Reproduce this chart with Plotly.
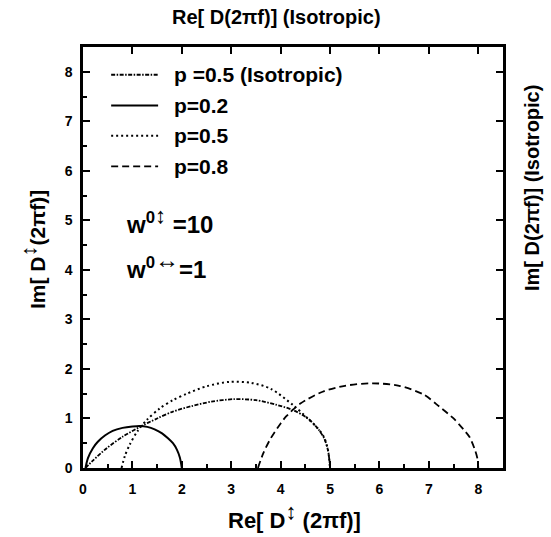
import plotly.graph_objects as go

# ---- data ----
iso_x = [0.05, 0.2, 0.48, 0.8, 1.15, 1.5, 1.82, 2.2, 2.6, 3.05, 3.5, 3.9, 4.25, 4.55, 4.75, 4.88, 4.96, 5.0]
iso_y = [0.0, 0.15, 0.4, 0.63, 0.83, 1.0, 1.14, 1.25, 1.34, 1.39, 1.37, 1.28, 1.17, 1.0, 0.8, 0.6, 0.35, 0.0]

p2_x = [0.05, 0.1, 0.2, 0.3, 0.45, 0.6, 0.8, 1.0, 1.15, 1.3, 1.45, 1.6, 1.72, 1.82, 1.9, 1.96, 2.0]
p2_y = [0.0, 0.2, 0.4, 0.53, 0.66, 0.75, 0.81, 0.84, 0.85, 0.83, 0.78, 0.7, 0.6, 0.5, 0.37, 0.21, 0.0]

p5_x = [0.78, 0.85, 0.95, 1.1, 1.3, 1.55, 1.82, 2.1, 2.5, 2.97, 3.4, 3.8, 4.25, 4.55, 4.75, 4.88, 4.96, 5.0]
p5_y = [0.0, 0.25, 0.48, 0.74, 0.98, 1.2, 1.37, 1.5, 1.65, 1.74, 1.72, 1.6, 1.27, 1.0, 0.8, 0.62, 0.35, 0.0]

p8_x = [3.54, 3.65, 3.8, 4.0, 4.11, 4.4, 4.85, 5.3, 5.86, 6.4, 6.9, 7.21, 7.5, 7.7, 7.82, 7.92, 7.98, 8.0]
p8_y = [0.0, 0.3, 0.6, 0.9, 1.04, 1.3, 1.54, 1.66, 1.71, 1.66, 1.48, 1.24, 1.0, 0.78, 0.63, 0.4, 0.2, 0.0]

legend_labels = ["p =0.5 (Isotropic)", "p=0.2", "p=0.5", "p=0.8"]
x_ticks = [0, 1, 2, 3, 4, 5, 6, 7, 8]
y_ticks = [0, 1, 2, 3, 4, 5, 6, 7, 8]

FONT = "Liberation Sans, Arial, sans-serif"
BLACK = "#000000"


def bfont(size):
    return dict(family=FONT, size=size, color=BLACK, weight="bold")


series = [
    (iso_x, iso_y, dict(color=BLACK, width=1.8, dash="4px,1.5px,1.5px,1.5px")),
    (p2_x, p2_y, dict(color=BLACK, width=2)),
    (p5_x, p5_y, dict(color=BLACK, width=2, dash="2px,3px")),
    (p8_x, p8_y, dict(color=BLACK, width=1.8, dash="7px,4px")),
]

L, R, T, B = 83, 48, 47, 69
W, H = 551, 537
pw, ph = W - L - R, H - T - B


def px2paper(px, py):
    return (px - L) / pw, ((H - py) - B) / ph


fig = go.Figure()
for (xs, ys, ln), name in zip(series, legend_labels):
    fig.add_trace(go.Scatter(x=xs, y=ys, mode="lines", line=dict(shape="spline", smoothing=0.8, **ln),
                             name=name, showlegend=False))

# dummy trace for mirrored top/right axes
fig.add_trace(go.Scatter(x=[], y=[], xaxis="x2", yaxis="y2", showlegend=False))

# manual legend (line samples + labels)
leg_rows = [7.94, 7.32, 6.71, 6.09]
for (xs, ys, ln), name, ry in zip(series, legend_labels, leg_rows):
    fig.add_shape(type="line", xref="x", yref="y", x0=0.57, x1=1.52, y0=ry, y1=ry,
                  line=dict(color=ln["color"], width=ln["width"], dash=ln.get("dash", "solid")))
    fig.add_annotation(x=1.8, y=ry, xref="x", yref="y", text=name, showarrow=False,
                       xanchor="left", yanchor="middle", font=bfont(21))

UD = "<span style='font-size:22px'>↕</span>"
LR = "<span style='font-size:24px'>↔</span>"

# w annotations
fig.add_annotation(x=0.82, y=5.0, xref="x", yref="y", text=f"w<sup>0{UD}</sup> =10", showarrow=False,
                   xanchor="left", yanchor="middle", font=bfont(24))
fig.add_annotation(x=0.82, y=4.1, xref="x", yref="y", text=f"w<sup>0{LR}</sup>=1", showarrow=False,
                   xanchor="left", yanchor="middle", font=bfont(24))

# titles (positions given in pixels, converted to paper coords)
titles = [
    (276, 17, "Re[ D(2πf)] (Isotropic)", 0, 20),
    (294, 516, f"Re[ D<sup>{UD}</sup> (2πf)]", 0, 22),
    (32, 250, f"Im[ D<sup>{UD}</sup>(2πf)]", -90, 21),
    (532, 188, "Im[ D(2πf)] (Isotropic)", -90, 20),
]
for px, py, txt, ang, sz in titles:
    ax_, ay_ = px2paper(px, py)
    fig.add_annotation(x=ax_, y=ay_, xref="paper", yref="paper", text=txt, showarrow=False, textangle=ang,
                       xanchor="center", yanchor="middle", font=bfont(sz))

axis_common = dict(range=[0, 8.5], showgrid=False, zeroline=False, showline=True, linecolor=BLACK,
                   linewidth=2.5, ticks="inside", ticklen=7, tickwidth=2, tickcolor=BLACK)
minor = dict(ticks="inside", ticklen=4, tickwidth=2, tickcolor=BLACK, dtick=0.5, showgrid=False)

fig.update_layout(
    width=W, height=H,
    margin=dict(l=L, r=R, t=T, b=B),
    paper_bgcolor="white", plot_bgcolor="white",
    showlegend=False,
    xaxis=dict(**axis_common, tickmode="array", tickvals=x_ticks, ticktext=[str(v) for v in x_ticks],
               tickfont=bfont(14), ticklabelstandoff=6, minor=minor),
    yaxis=dict(**axis_common, tickmode="array", tickvals=y_ticks, ticktext=[str(v) for v in y_ticks],
               tickfont=bfont(14), ticklabelstandoff=5, minor=minor),
    xaxis2=dict(**axis_common, overlaying="x", side="top", tickvals=x_ticks, showticklabels=False),
    yaxis2=dict(**axis_common, overlaying="y", side="right", tickvals=y_ticks, showticklabels=False),
)

fig.write_html("out.html")
